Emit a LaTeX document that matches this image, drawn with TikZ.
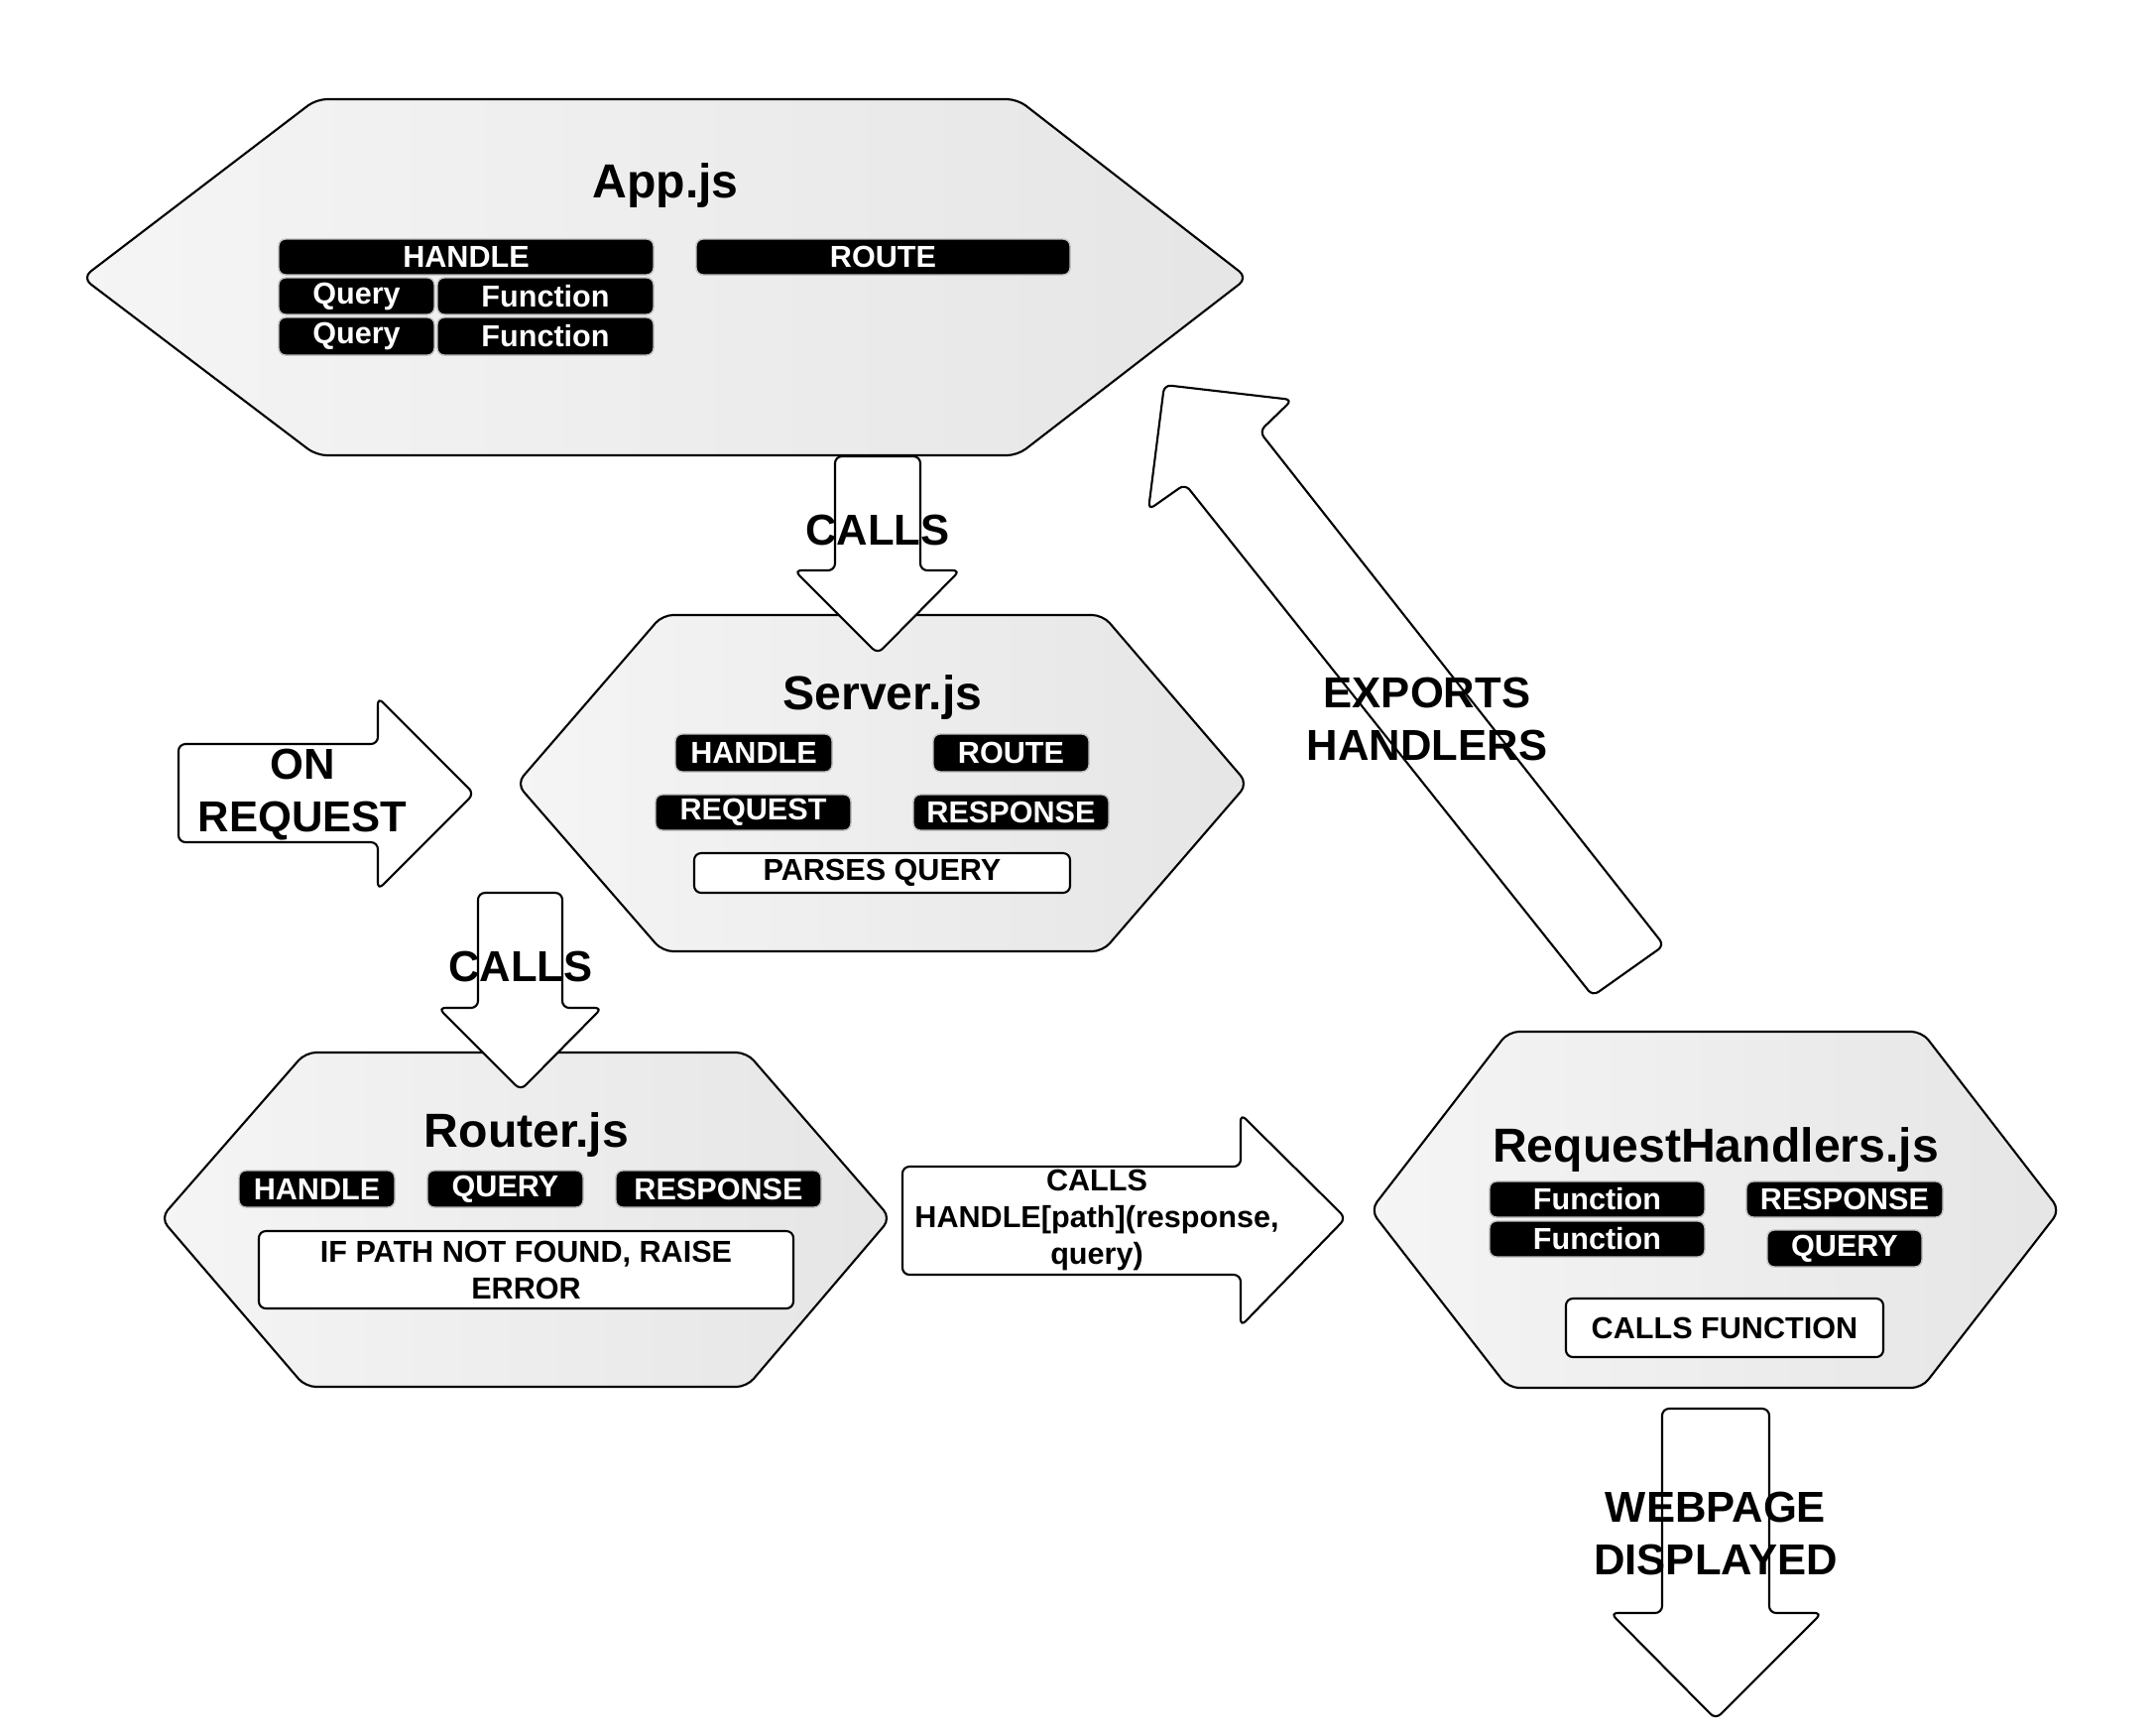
\documentclass[tikz,border=0pt]{standalone}
\usepackage{fontspec}
\setmainfont{Liberation Sans}

\tikzset{
  hexa/.style={draw,line width=0.6pt,rounded corners=3,left color=black!4,right color=black!10},
  blockarrow/.style={draw,fill=white,line width=0.6pt,rounded corners=2},
  tag/.style={draw=black!25,fill=black,line width=0.4pt,rounded corners=2},
  note/.style={draw,fill=white,line width=0.6pt,rounded corners=2},
  tagtext/.style={text=white,font=\fontsize{8.7}{10.5}\selectfont\bfseries},
  notetext/.style={font=\fontsize{8.7}{10.5}\selectfont\bfseries,align=center},
  title/.style={font=\fontsize{13.7}{16}\selectfont\bfseries},
  flowtext/.style={font=\fontsize{12.4}{15.2}\selectfont\bfseries,align=center}
}

\begin{document}
\begin{tikzpicture}[x=0.01cm,y=-0.01cm]

\useasboundingbox (0,0) rectangle (2174,1747);

\fill [white] (0,0) rectangle (2174,1747);

% App.js
\draw [hexa] (83,280) -- (319,100) -- (1026,100) -- (1258,280) -- (1026,459) -- (319,459) -- cycle;

\node [title] (app) at (671,187) {App.js};

\draw [tag] (281,241) rectangle ++(378,36) node [midway,tagtext] (apphandle) {HANDLE};

\draw [tag] (281,280) rectangle ++(157,37) node [midway,tagtext] (appqueryA) {Query};

\draw [tag] (441,280) rectangle ++(218,37) node [midway,tagtext] (appfuncA) {Function};

\draw [tag] (281,320) rectangle ++(157,38) node [midway,tagtext] (appqueryB) {Query};

\draw [tag] (441,320) rectangle ++(218,38) node [midway,tagtext] (appfuncB) {Function};

\draw [tag] (702,241) rectangle ++(377,36) node [midway,tagtext] (approute) {ROUTE};

% Server.js
\draw [hexa] (521,790) -- (668,620) -- (1112,620) -- (1258,790) -- (1112,959) -- (668,959) -- cycle;

\node [title] (server) at (890,703) {Server.js};

\draw [tag] (681,740) rectangle ++(158,38) node [midway,tagtext] (srvhandle) {HANDLE};

\draw [tag] (941,740) rectangle ++(157,38) node [midway,tagtext] (srvroute) {ROUTE};

\draw [tag] (661,801) rectangle ++(197,36) node [midway,tagtext] (srvrequest) {REQUEST};

\draw [tag] (921,801) rectangle ++(197,36) node [midway,tagtext] (srvresponse) {RESPONSE};

\draw [note] (700,860) rectangle ++(379,40) node [midway,notetext] (srvparse) {PARSES QUERY};

\draw [blockarrow] (842,460) -- (928,460) -- (928,575) -- (968,575) -- (885,659) -- (801,575) -- (842,575) -- cycle;

\node [flowtext] (callsA) at (885,534) {CALLS};

\draw [blockarrow] (180,750) -- (381,750) -- (381,703) -- (478,800) -- (381,897) -- (381,849) -- (180,849) -- cycle;

\node [flowtext] (onrequest) at (305,801) {ON\\REQUEST};

% Router.js
\draw [hexa] (162,1228) -- (308,1061) -- (753,1061) -- (898,1228) -- (753,1398) -- (308,1398) -- cycle;

\node [title] (router) at (531,1144) {Router.js};

\draw [tag] (241,1180) rectangle ++(157,37) node [midway,tagtext] (rthandle) {HANDLE};

\draw [tag] (431,1180) rectangle ++(157,37) node [midway,tagtext] (rtquery) {QUERY};

\draw [tag] (621,1180) rectangle ++(207,37) node [midway,tagtext] (rtresponse) {RESPONSE};

\draw [note] (261,1241) rectangle ++(539,78) node [midway,notetext] (rterror) {IF PATH NOT FOUND, RAISE\\ERROR};

\draw [blockarrow] (482,900) -- (567,900) -- (567,1016) -- (607,1016) -- (525,1099) -- (442,1016) -- (482,1016) -- cycle;

\node [flowtext] (callsB) at (525,974) {CALLS};

\draw [blockarrow] (910,1176) -- (1251,1176) -- (1251,1123) -- (1357,1228) -- (1251,1337) -- (1251,1285) -- (910,1285) -- cycle;

\node [notetext] (callshandle) at (1106,1230) {CALLS\\HANDLE[path](response,\\query)};

% RequestHandlers.js
\draw [hexa] (1382,1220) -- (1521,1040) -- (1938,1040) -- (2077,1220) -- (1938,1399) -- (1521,1399) -- cycle;

\node [title] (handlers) at (1730,1159) {RequestHandlers.js};

\draw [tag] (1502,1191) rectangle ++(217,36) node [midway,tagtext] (rhfuncA) {Function};

\draw [tag] (1502,1231) rectangle ++(217,36) node [midway,tagtext] (rhfuncB) {Function};

\draw [tag] (1761,1191) rectangle ++(198,36) node [midway,tagtext] (rhresponse) {RESPONSE};

\draw [tag] (1782,1240) rectangle ++(156,37) node [midway,tagtext] (rhquery) {QUERY};

\draw [note] (1579,1309) rectangle ++(320,59) node [midway,notetext] (rhcalls) {CALLS FUNCTION};

\draw [blockarrow] (1676,1420) -- (1784,1420) -- (1784,1626) -- (1837,1626) -- (1730,1733) -- (1624,1626) -- (1676,1626) -- cycle;

\node [flowtext] (webpage) at (1730,1546) {WEBPAGE\\DISPLAYED};

\draw [blockarrow] (1606,1004) -- (1195,488) -- (1158,514) -- (1174,388) -- (1303,403) -- (1270,435) -- (1678,953) -- cycle;

\node [flowtext] (exports) at (1439,725) {EXPORTS\\HANDLERS};

\end{tikzpicture}
\end{document}
